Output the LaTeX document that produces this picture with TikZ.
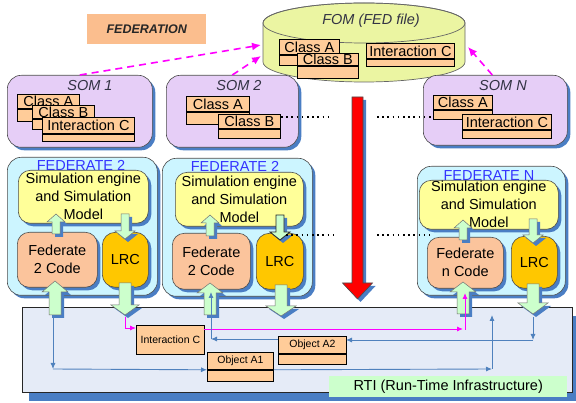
\documentclass[tikz,border=0pt]{standalone}
\usepackage{fontspec}
\setmainfont{Liberation Sans}
\usetikzlibrary{shadows,arrows.meta}

\definecolor{shdw}{HTML}{4A7EC4}
\definecolor{clsfill}{HTML}{FFCC99}
\definecolor{tagfill}{HTML}{FBBE8E}
\definecolor{codefill}{HTML}{FBC49C}
\definecolor{lrcfill}{HTML}{FFC700}
\definecolor{simfill}{HTML}{FFFF99}
\definecolor{fedfill}{HTML}{CCF5FF}
\definecolor{somfill}{HTML}{E6CEF7}
\definecolor{fomfill}{HTML}{EBF5A2}
\definecolor{rtifill}{HTML}{E5EBF7}
\definecolor{bandfill}{HTML}{CCFFCC}
\definecolor{arrfill}{HTML}{CCFFCC}
\definecolor{linkblue}{HTML}{4F81BD}
\definecolor{magline}{HTML}{FF00FF}
\definecolor{fedblue}{HTML}{3333FF}
\definecolor{titlegray}{HTML}{333344}

\newcommand\fbig{\fontsize{14.5pt}{18pt}\selectfont}
\newcommand\fsmall{\fontsize{10.5pt}{12pt}\selectfont}

% UML-style class box: name, x, y, width, upper height, lower height, label
\newcommand\umlcls[7]{%
  \node[clsup,minimum width=#4pt,minimum height=#5pt] (#1) at (#2,#3) {#7};
  \node[clslow,minimum width=#4pt,minimum height=#6pt] (#1low) at (#1.south west) {};}

% block arrow: style, x, y start, y tip, shaft half width, head half width, y of head base
\newcommand\blockarrow[7]{%
  \path[#1] ({#2-#5},#3) -- ({#2-#5},#7) -- ({#2-#6},#7) -- (#2,#4)
    -- ({#2+#6},#7) -- ({#2+#5},#7) -- ({#2+#5},#3) -- cycle;}

\begin{document}
\begin{tikzpicture}[x=1pt,y=-1pt,
  shd/.style={drop shadow={shadow xshift=3pt,shadow yshift=-3pt,fill=shdw,opacity=1}},
  panel/.style={draw=black!70,line width=0.6pt,rounded corners=#1,anchor=north west,inner sep=0pt,shd},
  panel/.default=12pt,
  clsup/.style={draw=black,line width=0.8pt,fill=clsfill,inner sep=0pt,anchor=north west,font=\fbig,text=black},
  clslow/.style={draw=black,line width=0.8pt,fill=clsfill,inner sep=0pt,anchor=north west},
  somtitle/.style={font={\fbig\itshape},text=titlegray,anchor=base,inner sep=0pt},
  fedtitle/.style={font=\fbig,text=fedblue,anchor=base,inner sep=0pt},
  boxtext/.style={font=\fbig,align=center},
  greenarr/.style={draw=black!55,line width=0.5pt,fill=arrfill,shd},
  rtilink/.style={draw=linkblue,line width=0.9pt,-{Latex[length=6pt,width=5pt]}},
  maglink/.style={draw=magline,line width=0.9pt,-{Latex[length=6pt,width=5pt]}},
  somlink/.style={draw=magline,line width=1.6pt,dash pattern=on 7pt off 5pt,-{Latex[length=9pt,width=8pt]}},
  dotrow/.style={draw=black,line width=1.6pt,dash pattern=on 1.6pt off 3.6pt},
]
\useasboundingbox (0,0) rectangle (576,403);

% ---------- federation tag ----------
\node[fill=tagfill,anchor=north west,minimum width=119pt,minimum height=30pt,inner sep=0pt,
      font={\fontsize{12.5pt}{14pt}\selectfont\bfseries\itshape},text=black!85] (fedtag) at (87,14) {FEDERATION};

% ---------- FOM cylinder ----------
\path[draw=black!60,line width=0.7pt,fill=fomfill] (263,23) -- (263,62)
  arc[start angle=180,end angle=360,x radius=101pt,y radius=20pt] -- (465,23)
  arc[start angle=0,end angle=180,x radius=101pt,y radius=20pt] -- cycle;
\draw[black!60,line width=0.7pt] (364,23) ellipse[x radius=101pt,y radius=20pt];
\node[font={\fbig\itshape},text=titlegray,inner sep=0pt] (fomlabel) at (371,21) {FOM (FED file)};
\umlcls{fa}{279}{39}{60}{15}{10}{Class A}
\umlcls{fb}{297}{53}{61}{12}{12}{Class B}
\umlcls{fc}{366}{43}{88}{15}{7}{Interaction C}
\coordinate (fomL1) at (261,45);
\coordinate (fomL2) at (261,56);
\coordinate (fomR) at (468,47);

% ---------- SOMs ----------
\node[panel=14pt,fill=somfill,minimum width=145pt,minimum height=72pt] (som1) at (7,75) {};
\node[somtitle] (som1t) at (90,91) {SOM 1};
\umlcls{s1a}{17}{94}{62}{14}{12}{Class A}
\umlcls{s1b}{32}{105}{62}{13}{10}{Class B}
\umlcls{s1c}{42}{117}{92}{16}{7}{Interaction C}

\node[panel=14pt,fill=somfill,minimum width=132pt,minimum height=72pt] (som2) at (166,75) {};
\node[somtitle] (som2t) at (239,91) {SOM 2};
\umlcls{s2a}{186}{96}{63}{15}{12}{Class A}
\umlcls{s2b}{218}{114}{62}{14}{9}{Class B}

\node[panel=14pt,fill=somfill,minimum width=144pt,minimum height=70pt] (somN) at (423,75) {};
\node[somtitle] (somNt) at (503,91) {SOM N};
\umlcls{sna}{433}{95}{59}{14}{9}{Class A}
\umlcls{snc}{462}{114}{89}{15}{8}{Interaction C}

% SOM to FOM links
\draw[somlink] (som1.north) -- (fomL1);
\draw[somlink] (som2.north) -- (fomL2);
\draw[somlink] ([xshift=-3pt]somN.north) -- (fomR);

% ---------- RTI ----------
\node[draw=black!85,line width=0.7pt,fill=rtifill,anchor=north west,inner sep=0pt,
      minimum width=550pt,minimum height=85pt,
      drop shadow={shadow xshift=7pt,shadow yshift=-9pt,fill=shdw,opacity=1}] (rti) at (22,307) {};
\node[fill=bandfill,anchor=north west,inner sep=0pt,minimum width=238pt,minimum height=21pt,font=\fbig] (rtiband) at (329,376) {RTI (Run-Time Infrastructure)};

% ---------- federates ----------
% first federate
\node[panel=14pt,fill=fedfill,minimum width=150pt,minimum height=138pt] (fed1) at (7,157) {};
\node[fedtitle] (fed1t) at (81,171) {FEDERATE 2};
\node[panel,fill=simfill,minimum width=130pt,minimum height=53pt,boxtext] (sim1) at (18,170) {Simulation engine\\and Simulation\\Model};
\node[panel,fill=codefill,minimum width=80pt,minimum height=55pt,boxtext] (code1) at (17,232) {Federate\\2 Code};
\node[panel=13pt,fill=lrcfill,minimum width=46pt,minimum height=55pt,boxtext] (lrc1) at (102,232) {LRC};
\blockarrow{greenarr}{56}{234}{214}{4}{9}{222}
\blockarrow{greenarr}{125}{214}{239}{4}{10}{231}

% second federate
\node[panel=14pt,fill=fedfill,minimum width=150pt,minimum height=138pt] (fed2) at (162,158) {};
\node[fedtitle] (fed2t) at (235,172) {FEDERATE 2};
\node[panel,fill=simfill,minimum width=128pt,minimum height=54pt,boxtext] (sim2) at (175,172) {Simulation engine\\and Simulation\\Model};
\node[panel,fill=codefill,minimum width=78pt,minimum height=56pt,boxtext] (code2) at (172,233) {Federate\\2 Code};
\node[panel=13pt,fill=lrcfill,minimum width=47pt,minimum height=56pt,boxtext] (lrc2) at (256,233) {LRC};
\blockarrow{greenarr}{210}{236}{215}{4}{9}{223}
\blockarrow{greenarr,draw=black!85,line width=0.8pt}{280}{215}{240}{4}{10}{232}

% federate N
\node[panel=14pt,fill=fedfill,minimum width=148pt,minimum height=129pt] (fedN) at (417,166) {};
\node[fedtitle] (fedNt) at (489,181) {FEDERATE N};
\node[panel,fill=simfill,minimum width=139pt,minimum height=49pt,boxtext] (simN) at (419,180) {Simulation engine\\and Simulation\\Model};
\node[panel,fill=codefill,minimum width=76pt,minimum height=51pt,boxtext] (codeN) at (427,237) {Federate\\n Code};
\node[panel=13pt,fill=lrcfill,minimum width=46pt,minimum height=52pt,boxtext] (lrcN) at (511,236) {LRC};
\blockarrow{greenarr}{463}{240}{220}{4}{9}{228}
\blockarrow{greenarr}{533}{219}{243}{4}{10}{235}

% ellipsis rows between federates
\draw[dotrow] (281,117) -- (333,117);
\draw[dotrow] (377,117) -- (433,117);
\draw[dotrow] (286,235) -- (333,235);
\draw[dotrow] (377,235) -- (430,235);

% publish / subscribe direction
\blockarrow{draw=black!70,line width=0.6pt,fill=red,shd}{357.5}{97}{299}{5.5}{15}{283}

% exchange with the RTI
\blockarrow{greenarr}{55}{315}{281}{6}{13}{292}
\blockarrow{greenarr}{125}{283}{315}{6}{14}{305}
\blockarrow{greenarr}{210}{315}{283}{6}{13}{293}
\blockarrow{greenarr}{281}{285}{316}{6}{15}{306}
\blockarrow{greenarr}{463}{314}{282}{6}{13}{292}
\blockarrow{greenarr}{533}{284}{314}{6}{15}{303}

% ---------- RTI contents ----------
\node[clsup,font=\fsmall,minimum width=68pt,minimum height=29pt] (rint) at (136,325) {Interaction C};
\begin{scope}[clsup/.append style={font=\fsmall}]
\umlcls{oa1}{207}{352}{66}{17}{11}{Object A1}
\umlcls{oa2}{278}{336}{68}{17}{10}{Object A2}
\end{scope}

\coordinate (m0) at (125,317);
\coordinate (m1) at (136,328);
\coordinate (m2) at (204,329);
\coordinate (m3) at (463,329);
\coordinate (m4) at (465,330);
\coordinate (m5) at (465,293);
\draw[maglink] (m0) |- (m1);
\draw[maglink] (m2) -- (m3);
\draw[maglink,-{Latex[length=6pt,width=5pt]}] (m4) -- (m5);

\coordinate (b0) at (53,315);
\coordinate (b1) at (53,369);
\draw[rtilink] (b0) -- (b1);
\draw[rtilink] (b1) -- (oa1.south west);

\coordinate (b2) at (492,369);
\coordinate (b3) at (492,315);
\draw[rtilink] (oa1.south east) -- (b2);
\draw[rtilink] (b2) -- (b3);

\coordinate (b4) at (533,317);
\coordinate (b5) at (533,340);
\coordinate (b6) at (346,340);
\draw[rtilink] (b4) -- (b5);
\draw[rtilink] (b5) -- (b6);

\coordinate (b7) at (278,339);
\coordinate (b8) at (211,339);
\coordinate (b9) at (211,292);
\draw[rtilink] (b7) -- (b8);
\draw[rtilink] (b8) -- (b9);
\end{tikzpicture}
\end{document}
